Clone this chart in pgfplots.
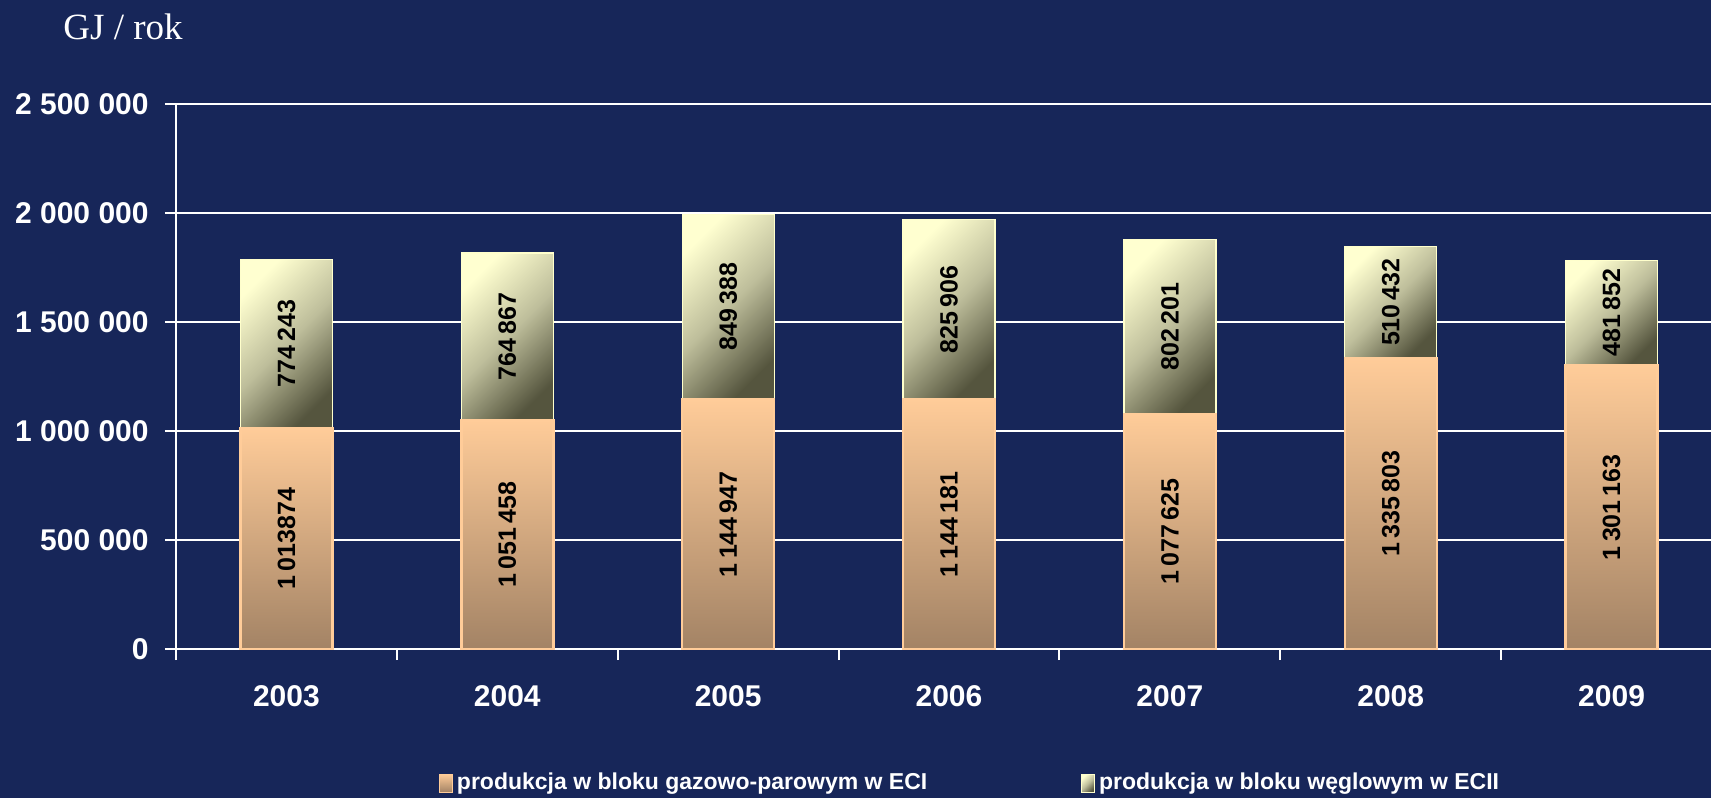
\documentclass[border=0pt]{standalone}
\usepackage{pgfplots}
\usepackage{pgfplotstable}
\pgfplotsset{compat=1.18}
\usepackage{fontspec}
\setmainfont{Liberation Serif}
\newfontfamily\arial{Liberation Sans}
\definecolor{bg}{RGB}{23,38,89}
\definecolor{peachT}{RGB}{255,204,153}
\definecolor{peachB}{RGB}{163,131,101}
\definecolor{ylUL}{RGB}{255,255,208}
\definecolor{ylMid}{RGB}{190,190,155}
\definecolor{ylLR}{RGB}{85,85,62}
\definecolor{ylEdge}{RGB}{255,255,204}

\pgfplotstableread[col sep=comma]{
x,a,b,la,lb
0,1013874,774243,1\,013874,774\,243
1,1051458,764867,1\,051\,458,764\,867
2,1144947,849388,1\,144\,947,849\,388
3,1144181,825906,1\,144\,181,825\,906
4,1077625,802201,1\,077\,625,802\,201
5,1335803,510432,1\,335\,803,510\,432
6,1301163,481852,1\,301\,163,481\,852
}\datatab

\pgfplotsset{
  base/.style={at={(0,0)}, anchor=south west, scale only axis,
    width=767.5pt, height=272.5pt, xmin=-0.5, xmax=6.45, ymin=0, ymax=2500000},
  bot/.style={draw=peachT, line width=1.2pt, top color=peachT, bottom color=peachB},
  topseg/.style={draw=ylEdge, line width=0.6pt, left color=ylUL, right color=ylLR,
    middle color=ylMid, shading angle=45},
}
\newcommand\onebar[2]{%
\begin{axis}[base, hide axis, ybar stacked, bar width=46pt]
\addplot[bot] table[x=x, y=a, restrict x to domain=#1:#2] {\datatab};
\addplot[topseg] table[x=x, y=b, restrict x to domain=#1:#2] {\datatab};
\end{axis}}

\begin{document}
\begin{tikzpicture}
\fill[bg] (-88pt,-74.5pt) rectangle (767.5pt,324.5pt);
\useasboundingbox (-88pt,-74.5pt) rectangle (767.5pt,324.5pt);
\begin{axis}[
  base,
  axis x line*=bottom, axis y line*=left,
  axis line style={white, line width=1pt, -},
  xtick={-0.5,0.5,1.5,2.5,3.5,4.5,5.5},
  xticklabels={2003,2004,2005,2006,2007,2008,2009},
  ytick={0,500000,1000000,1500000,2000000,2500000},
  yticklabels={0,500 000,1 000 000,1 500 000,2 000 000,2 500 000},
  scaled y ticks=false,
  /pgf/number format/assume math mode=true,
  tick align=outside,
  major tick length=5.5pt,
  tick style={white, line width=1pt},
  ymajorgrids,
  grid style={white, line width=1pt},
  xticklabel style={xshift=55.2pt, yshift=-12.5pt, anchor=north, inner sep=0pt, text=white, font=\arial\bfseries\fontsize{15}{17}\selectfont},
  yticklabel style={xshift=-8pt, anchor=east, inner sep=0pt, text=white, font=\arial\bfseries\fontsize{15}{17}\selectfont},
  legend style={at={(0.518,-0.246)}, anchor=center, draw=none, fill=none, text=white,
    font=\arial\bfseries\fontsize{11.5}{13}\selectfont, legend columns=2,
    /tikz/every even column/.append style={column sep=75pt}},
  legend image code/.code={\draw[#1, line width=0.4pt] (0pt,-4.5pt) rectangle (6.5pt,4.5pt);},
]
\addlegendimage{bot}
\addlegendentry{produkcja w bloku gazowo-parowym w ECI}
\addlegendimage{topseg}
\addlegendentry{produkcja w bloku węglowym w ECII}
\end{axis}
\onebar{-0.2}{0.2}
\onebar{0.8}{1.2}
\onebar{1.8}{2.2}
\onebar{2.8}{3.2}
\onebar{3.8}{4.2}
\onebar{4.8}{5.2}
\onebar{5.8}{6.2}
\begin{axis}[base, hide axis, point meta=explicit symbolic, nodes near coords,
  every node near coord/.append style={rotate=90, anchor=center, inner sep=0pt, text=black,
    font=\arial\bfseries\fontsize{12.5}{14}\selectfont}]
\addplot[draw=none] table[x=x, y expr=\thisrow{a}/2, meta=la] {\datatab};
\addplot[draw=none] table[x=x, y expr=\thisrow{a}+\thisrow{b}/2, meta=lb] {\datatab};
\end{axis}
\node[anchor=base west, text=white, font=\fontsize{18.5}{20}\selectfont, inner sep=0pt] at (-56.5pt,304.5pt) {GJ / rok};
\end{tikzpicture}
\end{document}
